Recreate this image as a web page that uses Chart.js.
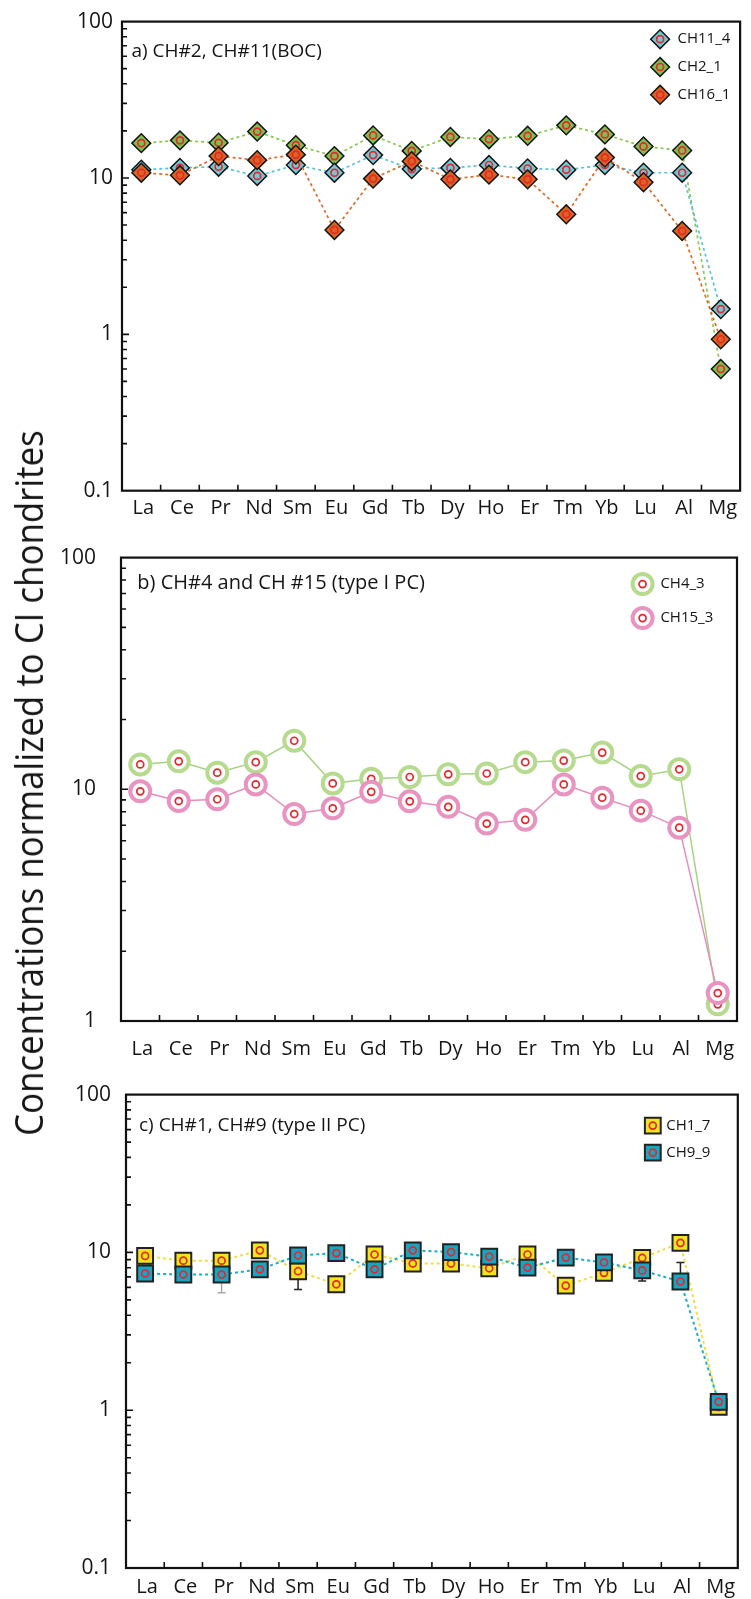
<!DOCTYPE html>
<html><head><meta charset="utf-8">
<script src="https://cdn.jsdelivr.net/npm/chart.js@4.4.1/dist/chart.umd.min.js"></script>
<style>
html,body{margin:0;padding:0;background:#fff;}
body{width:751px;height:1599px;position:relative;overflow:hidden;}
.pane{position:absolute;left:0;width:751px;}
#ytitle{position:absolute;left:28px;top:783px;transform:translate(-50%,-50%) rotate(-90deg) scaleX(0.917);
 white-space:nowrap;font-family:'Open Sans',sans-serif;font-size:38px;line-height:38px;color:#151515;}
</style></head><body>
<div class="pane" style="top:0;height:525px"><canvas id="ca"></canvas></div>
<div class="pane" style="top:520px;height:545px"><canvas id="cb"></canvas></div>
<div class="pane" style="top:1065px;height:534px"><canvas id="cc"></canvas></div>
<div id="ytitle">Concentrations normalized to CI chondrites</div>
<script>
// ---------- data ----------
const elements = ['La','Ce','Pr','Nd','Sm','Eu','Gd','Tb','Dy','Ho','Er','Tm','Yb','Lu','Al','Mg'];

const ticksA = [0.1, 1, 10, 100];
const tickLabelsA = ['0.1', '1', '10', '100'];
const ticksB = [1, 10, 100];
const tickLabelsB = ['1', '10', '100'];
const ticksC = [0.1, 1, 10, 100];
const tickLabelsC = ['0.1', '1', '10', '100'];

// panel a
const ch11_4 = [11.3, 11.6, 11.8, 10.3, 12.1, 10.8, 14.0, 11.4, 11.6, 12.1, 11.5, 11.3, 12.1, 10.8, 10.8, 1.45];
const ch2_1  = [16.7, 17.4, 16.8, 19.8, 16.2, 13.8, 18.7, 14.9, 18.3, 17.7, 18.6, 21.7, 19.0, 15.9, 15.0, 0.60];
const ch16_1 = [10.8, 10.4, 13.8, 13.0, 14.1, 4.65, 9.9, 12.8, 9.8, 10.5, 9.8, 5.86, 13.5, 9.4, 4.58, 0.93];
// panel b
const ch4_3  = [12.8, 13.2, 11.8, 13.1, 16.2, 10.6, 11.1, 11.3, 11.6, 11.7, 13.1, 13.3, 14.4, 11.4, 12.2, 1.18];
const ch15_3 = [9.8, 8.9, 9.06, 10.5, 7.82, 8.28, 9.75, 8.87, 8.40, 7.11, 7.38, 10.5, 9.2, 8.09, 6.83, 1.32];
// panel c
const ch1_7  = [9.5, 8.86, 8.86, 10.3, 7.6, 6.28, 9.7, 8.51, 8.5, 7.93, 9.7, 6.16, 7.42, 9.22, 11.5, 1.05];
const ch9_9  = [7.35, 7.24, 7.24, 7.81, 9.56, 9.9, 7.81, 10.3, 10.05, 9.41, 8.01, 9.27, 8.64, 7.69, 6.54, 1.13];
const ch1_7Low  = [null, null, 5.55, null, 5.83, null, null, null, null, null, null, null, null, null, null, null];
const ch9_9Low  = [null, null, null, null, null, null, null, null, null, null, null, null, null, 6.59, null, null];
const ch9_9High = [null, null, null, null, null, null, null, null, null, null, null, null, null, null, 8.63, null];

// ---------- helpers ----------
const FONT = "'Open Sans', sans-serif";
Chart.defaults.font.family = FONT;
Chart.defaults.color = '#151515';

function drawMarker(ctx, style, x, y, r, fill, stroke, bw) {
  ctx.beginPath();
  if (style === 'circle') {
    ctx.arc(x, y, r, 0, Math.PI * 2);
  } else if (style === 'rectRot') {
    ctx.moveTo(x, y - r); ctx.lineTo(x + r, y); ctx.lineTo(x, y + r); ctx.lineTo(x - r, y);
  } else {
    const s = r * Math.SQRT1_2;
    ctx.rect(x - s, y - s, 2 * s, 2 * s);
  }
  ctx.closePath();
  ctx.fillStyle = fill; ctx.fill();
  ctx.lineWidth = bw; ctx.strokeStyle = stroke; ctx.stroke();
}

const innerDot = {
  id: 'innerDot',
  afterDatasetDraw(chart, args) {
    const ctx = chart.ctx;
    ctx.save();
    ctx.strokeStyle = '#E8262B'; ctx.lineWidth = 1.7;
    args.meta.data.forEach(el => {
      ctx.beginPath(); ctx.arc(el.x, el.y, 3.5, 0, Math.PI * 2); ctx.stroke();
    });
    ctx.restore();
  }
};

const errBars = {
  id: 'errBars',
  beforeDatasetsDraw(chart) {
    const ctx = chart.ctx, ys = chart.scales.y;
    chart.data.datasets.forEach((ds, di) => {
      const meta = chart.getDatasetMeta(di);
      ['errLow', 'errHigh'].forEach(k => {
        const arr = ds[k]; if (!arr) return;
        arr.forEach((v, i) => {
          if (v == null) return;
          const x = meta.data[i].x, y0 = ys.getPixelForValue(ds.data[i]), y1 = ys.getPixelForValue(v);
          ctx.save();
          ctx.strokeStyle = (ds.errColors && ds.errColors[i]) || '#222'; ctx.lineWidth = 1.5;
          ctx.beginPath(); ctx.moveTo(x, y0); ctx.lineTo(x, y1);
          ctx.moveTo(x - 4, y1); ctx.lineTo(x + 4, y1); ctx.stroke();
          ctx.restore();
        });
      });
    });
  }
};

const frame = {
  id: 'frame',
  afterDraw(chart) {
    const ctx = chart.ctx, a = chart.chartArea, xs = chart.scales.x, ys = chart.scales.y;
    ctx.save();
    ctx.strokeStyle = '#111';
    ctx.lineWidth = 1.6;
    const e0 = Math.round(Math.log10(ys.min)), e1 = Math.round(Math.log10(ys.max));
    ctx.beginPath();
    for (let e = e0; e < e1; e++) {
      for (let k = 1; k <= 9; k++) {
        if (e === e0 && k === 1) continue;
        const py = ys.getPixelForValue(k * Math.pow(10, e));
        const len = k === 1 ? 7 : 5;
        ctx.moveTo(a.left, py); ctx.lineTo(a.left + len, py);
      }
    }
    for (let i = 1; i < xs.ticks.length; i++) {
      const px = (xs.getPixelForTick(i - 1) + xs.getPixelForTick(i)) / 2;
      ctx.moveTo(px, a.bottom); ctx.lineTo(px, a.bottom - 6);
    }
    ctx.stroke();
    ctx.lineWidth = 2.2;
    ctx.strokeRect(a.left, a.top, a.right - a.left, a.bottom - a.top);
    ctx.restore();
  }
};

const deco = {
  id: 'deco',
  afterDraw(chart, args, o) {
    const ctx = chart.ctx, a = chart.chartArea;
    ctx.save();
    ctx.fillStyle = '#151515';
    ctx.textBaseline = 'middle'; ctx.textAlign = 'left';
    ctx.font = o.titleSize + 'px ' + FONT;
    ctx.fillText(o.title, a.left + o.titleDx, a.top + o.titleDy);
    ctx.font = o.legendSize + 'px ' + FONT;
    o.legendOrder.forEach((di, j) => {
      const ds = chart.data.datasets[di];
      const mx = a.right - o.legendDx, my = a.top + o.legendDy + j * o.legendGap;
      drawMarker(ctx, ds.pointStyle, mx, my, ds.pointRadius, ds.pointBackgroundColor, ds.pointBorderColor, ds.pointBorderWidth);
      ctx.strokeStyle = '#E8262B'; ctx.lineWidth = 1.7;
      ctx.beginPath(); ctx.arc(mx, my, 3.5, 0, Math.PI * 2); ctx.stroke();
      ctx.fillStyle = '#151515';
      ctx.fillText(ds.label, mx + o.textDx, my);
    });
    ctx.restore();
  }
};

function makeChart(id, p) {
  return new Chart(document.getElementById(id), {
    type: 'line',
    data: { labels: elements, datasets: p.datasets },
    options: {
      responsive: true, maintainAspectRatio: false, animation: false,
      layout: { padding: { top: p.padTop, right: p.padRight, left: 0, bottom: 0 } },
      plugins: { legend: { display: false }, tooltip: { enabled: false }, deco: p.deco },
      elements: { line: { tension: 0 } },
      scales: {
        x: {
          type: 'category', offset: true,
          grid: { display: false, drawTicks: false }, border: { display: false },
          ticks: { font: { size: 20 }, color: '#151515', padding: p.xPad, autoSkip: false, maxRotation: 0, labelOffset: 2 },
          afterFit(s) { s.height = p.xHeight; }
        },
        y: {
          type: 'logarithmic', min: p.min, max: p.max,
          grid: { display: false, drawTicks: false }, border: { display: false },
          ticks: {
            font: { size: 21 }, color: '#151515', padding: p.yPad, autoSkip: false,
            callback: (v) => {
              const i = p.tickVals.findIndex(t => Math.abs(t - v) < 1e-9 * Math.max(1, t));
              return i >= 0 ? p.tickLabels[i] : '';
            }
          },
          afterFit(s) { s.width = p.yWidth; }
        }
      }
    },
    plugins: [errBars, innerDot, frame, deco]
  });
}

function diamondSet(label, data, fill, line) {
  return { label, data, pointStyle: 'rectRot', pointRadius: 9.4, pointBackgroundColor: fill,
    pointBorderColor: '#151515', pointBorderWidth: 1.5, borderColor: line, borderWidth: 1.7,
    borderDash: [3, 3], fill: false };
}
function ringSet(label, data, col, line) {
  return { label, data, pointStyle: 'circle', pointRadius: 10, pointBackgroundColor: '#ffffff',
    pointBorderColor: col, pointBorderWidth: 4, borderColor: line, borderWidth: 1.5, fill: false };
}
function squareSet(label, data, fill, line, extra) {
  return Object.assign({ label, data, pointStyle: 'rect', pointRadius: 11.2, pointBackgroundColor: fill,
    pointBorderColor: '#222', pointBorderWidth: 2, borderColor: line, borderWidth: 2,
    borderDash: [3, 3], fill: false }, extra || {});
}

// panel a
makeChart('ca', {
  datasets: [
    diamondSet('CH16_1', ch16_1, '#D8641F', '#E06A25'),
    diamondSet('CH11_4', ch11_4, '#72C7D5', '#58C2D6'),
    diamondSet('CH2_1', ch2_1, '#7CBF4E', '#86C84A')
  ],
  min: 0.1, max: 100, tickVals: ticksA, tickLabels: tickLabelsA,
  padTop: 21, padRight: 6.7, yWidth: 122, yPad: 9, xHeight: 34.3, xPad: 6,
  deco: { title: 'a) CH#2, CH#11(BOC)', titleSize: 19, titleDx: 9.5, titleDy: 30,
    legendSize: 15, legendOrder: [1, 2, 0], legendDx: 80, legendDy: 17.6, legendGap: 27.8, textDx: 17.4 }
});

// panel b
makeChart('cb', {
  datasets: [
    ringSet('CH15_3', ch15_3, '#E994C0', '#E88DBB'),
    ringSet('CH4_3', ch4_3, '#B6DA8E', '#A6D283')
  ],
  min: 1, max: 100, tickVals: ticksB, tickLabels: tickLabelsB,
  padTop: 30.5, padRight: 6.6, yWidth: 121, yPad: 25, xHeight: 44, xPad: 16,
  deco: { title: 'b) CH#4 and CH #15 (type I PC)', titleSize: 20, titleDx: 16.3, titleDy: 25.5,
    legendSize: 15, legendOrder: [1, 0], legendDx: 94.4, legendDy: 26.5, legendGap: 34, textDx: 17.8 }
});

// panel c
makeChart('cc', {
  datasets: [
    squareSet('CH9_9', ch9_9, '#17A5C1', '#1AADC8', { errLow: ch9_9Low, errHigh: ch9_9High }),
    squareSet('CH1_7', ch1_7, '#F3E51B', '#EDE040', { errLow: ch1_7Low, errColors: { 2: '#A8A8A8' } })
  ],
  min: 0.1, max: 100, tickVals: ticksC, tickLabels: tickLabelsC,
  padTop: 29.6, padRight: 5.2, yWidth: 126, yPad: 15, xHeight: 31, xPad: 7,
  deco: { title: 'c) CH#1, CH#9 (type II PC)', titleSize: 19, titleDx: 13, titleDy: 31,
    legendSize: 15, legendOrder: [1, 0], legendDx: 85, legendDy: 31, legendGap: 27, textDx: 13.4 }
});
</script>
</body></html>
